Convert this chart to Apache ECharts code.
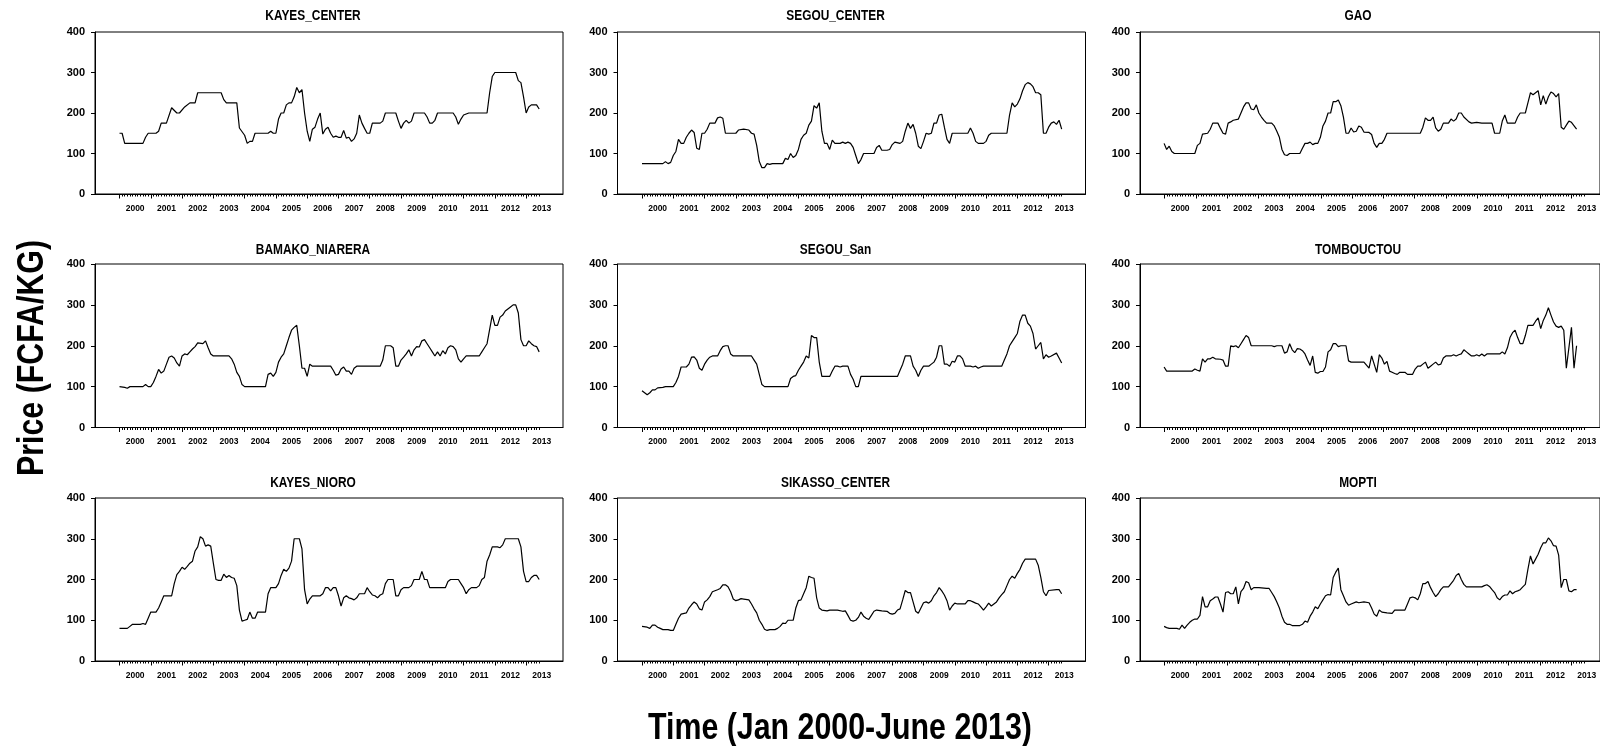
<!DOCTYPE html>
<html><head><meta charset="utf-8">
<script src="https://cdn.jsdelivr.net/npm/echarts@6/dist/echarts.min.js"></script>
<style>html,body{margin:0;padding:0;background:#fff}#c{width:1600px;height:746px}</style>
</head><body><div id="c"></div><script>
// Data: [month index (0 = Jan 2000), price FCFA/kg], vertices
const KAYES_CENTER = [[0,150],[1,150],[2,125],[9,125],[10,140],[11,150],[14,150],[15,155],[16,175],[18,175],[20,213],[22,200],[23,200],[25,215],[27,225],[29,225],[30,250],[39,250],[40,233],[41,225],[45,225],[46,163],[48,145],[49,125],[50,130],[51,130],[52,150],[57,150],[58,155],[59,150],[60,150],[61,185],[62,200],[63,200],[64,220],[65,225],[66,225],[67,240],[68,263],[69,250],[70,258],[71,200],[72,155],[73,130],[74,160],[75,165],[76,185],[77,200],[78,148],[79,160],[80,165],[81,150],[82,140],[83,143],[84,140],[85,140],[86,157],[87,138],[88,140],[89,130],[90,136],[91,150],[92,195],[93,175],[94,162],[95,150],[96,150],[97,175],[100,175],[101,180],[102,200],[106,200],[107,180],[108,162],[109,175],[110,182],[111,175],[112,180],[113,200],[117,200],[118,190],[119,175],[120,175],[121,182],[122,200],[128,200],[129,190],[130,172],[131,185],[132,195],[134,200],[141,200],[142,250],[143,290],[144,300],[152,300],[153,280],[154,275],[155,240],[156,200],[157,215],[158,220],[160,220],[161,210]];
const SEGOU_CENTER = [[0,75],[8,75],[9,80],[10,75],[11,78],[12,95],[13,105],[14,135],[15,125],[16,125],[17,140],[18,150],[19,158],[20,152],[21,113],[22,110],[23,150],[24,150],[25,160],[26,175],[28,175],[29,188],[30,190],[31,187],[32,150],[36,150],[37,158],[39,160],[41,158],[42,150],[43,148],[44,120],[45,80],[46,65],[47,65],[48,75],[49,73],[50,75],[54,75],[55,88],[56,85],[57,100],[58,90],[59,95],[60,110],[61,135],[62,145],[63,150],[64,170],[65,180],[66,218],[67,212],[68,225],[69,155],[70,125],[71,125],[72,110],[73,133],[74,125],[76,125],[77,128],[78,125],[79,128],[80,125],[81,115],[82,95],[83,75],[84,85],[85,100],[89,100],[90,115],[91,120],[92,108],[94,108],[95,110],[96,122],[97,128],[99,125],[100,130],[101,155],[102,175],[103,162],[104,172],[105,150],[106,118],[107,112],[108,130],[109,150],[110,148],[111,150],[112,175],[113,175],[114,195],[115,197],[116,165],[117,135],[118,125],[119,150],[125,150],[126,163],[127,150],[128,130],[129,125],[131,125],[132,130],[133,145],[134,150],[140,150],[141,195],[142,225],[143,215],[144,222],[145,235],[146,255],[147,270],[148,275],[149,272],[150,265],[151,250],[152,250],[153,245],[154,150],[155,150],[156,165],[157,175],[158,178],[159,172],[160,182],[161,160]];
const GAO = [[0,125],[1,110],[2,118],[3,105],[4,100],[12,100],[13,120],[14,125],[15,148],[17,150],[18,160],[19,175],[21,175],[22,162],[23,150],[24,148],[25,175],[26,178],[27,182],[29,185],[30,200],[31,215],[32,225],[33,225],[34,210],[35,208],[36,220],[37,200],[38,190],[39,182],[40,175],[42,175],[43,168],[44,155],[45,140],[46,110],[47,97],[48,95],[49,100],[53,100],[54,113],[55,125],[56,125],[57,128],[58,122],[59,125],[60,125],[61,140],[62,168],[63,180],[64,200],[65,200],[66,228],[67,228],[68,232],[69,218],[70,190],[71,150],[72,150],[73,163],[74,153],[75,155],[76,168],[77,165],[78,153],[80,152],[81,147],[82,125],[83,115],[84,125],[85,125],[86,135],[87,150],[100,150],[101,165],[102,188],[103,182],[104,182],[105,190],[106,163],[107,155],[108,160],[109,175],[111,175],[112,185],[113,180],[114,185],[115,200],[116,200],[117,190],[119,178],[120,175],[122,177],[124,175],[128,175],[129,150],[131,150],[132,180],[133,195],[134,175],[137,175],[138,190],[139,200],[141,200],[142,225],[143,250],[144,245],[145,250],[146,255],[147,220],[148,243],[149,222],[150,240],[151,252],[152,248],[153,240],[154,248],[155,165],[156,160],[157,170],[158,180],[159,177],[161,160]];
const BAMAKO_NIARERA = [[0,100],[2,98],[3,96],[4,100],[9,100],[10,105],[11,100],[12,100],[13,110],[14,125],[15,142],[16,133],[17,138],[18,155],[19,172],[20,175],[21,170],[22,158],[23,150],[24,175],[25,180],[26,178],[27,185],[28,192],[29,198],[30,207],[32,205],[33,212],[34,195],[35,180],[36,175],[42,175],[43,168],[44,155],[45,135],[46,125],[47,105],[48,100],[56,100],[57,130],[58,133],[59,125],[60,135],[61,160],[62,172],[63,180],[64,200],[65,220],[66,238],[67,245],[68,250],[69,200],[70,145],[71,145],[72,125],[73,155],[74,150],[81,150],[82,140],[83,128],[84,130],[85,143],[86,148],[87,138],[88,138],[89,130],[90,145],[91,150],[100,150],[101,165],[102,200],[104,200],[105,195],[106,150],[107,150],[108,165],[109,172],[110,180],[111,190],[112,175],[113,190],[114,198],[115,197],[116,212],[117,215],[118,205],[119,195],[120,185],[121,175],[122,185],[123,175],[124,188],[125,180],[126,195],[127,200],[128,198],[129,190],[130,168],[131,160],[132,168],[133,175],[138,175],[139,185],[140,195],[141,205],[142,240],[143,275],[144,250],[145,250],[146,270],[147,275],[148,285],[150,295],[151,300],[152,300],[153,280],[154,215],[155,200],[156,200],[157,212],[158,205],[159,200],[160,198],[161,185]];
const SEGOU_SAN = [[0,90],[1,85],[2,80],[3,85],[4,92],[5,92],[6,97],[8,98],[9,100],[12,100],[13,110],[14,125],[15,148],[17,148],[18,155],[19,172],[20,173],[21,165],[22,145],[23,140],[24,155],[25,165],[26,172],[27,175],[29,175],[30,188],[31,198],[32,200],[33,200],[34,180],[35,175],[42,175],[43,165],[44,155],[45,130],[46,105],[47,100],[56,100],[57,120],[58,125],[59,127],[60,140],[61,150],[62,160],[63,175],[64,170],[65,225],[66,220],[67,220],[68,160],[69,125],[72,125],[73,138],[74,150],[75,150],[76,148],[77,150],[79,150],[80,130],[81,118],[82,100],[83,100],[84,125],[98,125],[99,140],[100,155],[101,175],[103,175],[104,150],[105,140],[106,125],[107,140],[108,150],[110,150],[111,155],[112,160],[113,172],[114,200],[115,200],[116,155],[117,155],[118,150],[119,162],[120,160],[121,175],[122,175],[123,168],[124,150],[126,150],[127,148],[128,150],[129,145],[130,148],[131,150],[138,150],[139,165],[140,180],[141,200],[142,210],[143,220],[144,230],[145,260],[146,275],[147,275],[148,255],[149,248],[150,230],[151,192],[152,200],[153,208],[154,168],[155,178],[156,172],[157,175],[159,182],[160,170],[161,158]];
const TOMBOUCTOU = [[0,148],[1,138],[11,138],[12,143],[13,140],[14,138],[15,168],[16,160],[17,168],[18,168],[19,172],[20,168],[22,167],[23,165],[24,150],[25,150],[26,200],[27,198],[28,200],[29,195],[30,205],[31,215],[32,225],[33,220],[34,200],[42,200],[43,198],[44,200],[46,200],[47,182],[48,185],[49,205],[50,190],[51,183],[52,193],[53,192],[54,188],[55,180],[56,165],[57,152],[58,175],[59,135],[60,133],[61,137],[62,137],[63,148],[64,185],[65,190],[66,205],[67,205],[68,198],[69,200],[71,200],[72,163],[73,160],[78,160],[80,145],[81,175],[82,155],[83,135],[84,178],[85,170],[86,155],[87,162],[88,138],[89,135],[90,132],[91,130],[92,135],[94,135],[95,130],[97,130],[98,143],[99,150],[100,150],[101,155],[102,160],[103,145],[104,150],[105,155],[106,160],[107,153],[108,155],[109,170],[110,175],[112,175],[113,178],[114,175],[115,178],[116,180],[117,190],[118,185],[119,180],[120,175],[121,175],[122,178],[123,175],[124,180],[125,175],[126,180],[131,180],[132,185],[133,180],[134,195],[135,220],[136,232],[137,238],[138,220],[139,205],[140,205],[141,225],[142,250],[144,250],[145,260],[146,268],[147,242],[148,262],[149,275],[150,293],[151,275],[152,258],[153,248],[154,245],[155,248],[156,238],[157,145],[158,195],[159,245],[160,145],[161,200]];
const KAYES_NIORO = [[0,80],[3,80],[4,85],[5,90],[8,90],[9,92],[10,90],[11,105],[12,120],[14,120],[15,130],[16,145],[17,160],[20,160],[21,190],[22,212],[23,220],[24,230],[25,225],[26,232],[27,240],[28,245],[29,270],[30,280],[31,305],[32,300],[33,282],[34,285],[35,282],[36,240],[37,200],[38,198],[39,198],[40,213],[41,205],[42,210],[43,205],[44,203],[45,185],[46,125],[47,98],[48,100],[49,102],[50,120],[51,105],[52,105],[53,120],[56,120],[57,165],[58,180],[60,180],[61,190],[62,210],[63,225],[64,220],[65,228],[66,245],[67,300],[69,300],[70,275],[71,175],[72,140],[73,152],[74,160],[77,160],[78,165],[79,180],[80,180],[81,172],[82,180],[83,180],[84,160],[85,135],[86,155],[87,160],[88,155],[89,153],[90,150],[91,155],[92,165],[94,165],[95,180],[96,170],[97,162],[98,160],[99,155],[100,162],[101,165],[102,190],[103,200],[105,200],[106,160],[107,160],[108,175],[109,180],[111,180],[112,185],[113,200],[115,200],[116,220],[117,200],[118,200],[119,180],[125,180],[126,195],[127,200],[130,200],[131,190],[132,180],[133,165],[134,175],[135,180],[137,180],[138,185],[139,200],[140,205],[141,245],[142,260],[143,280],[145,280],[146,278],[147,285],[148,300],[153,300],[154,280],[155,220],[156,195],[157,195],[158,205],[159,210],[160,210],[161,200]];
const SIKASSO_CENTER = [[0,85],[2,83],[3,80],[4,88],[5,88],[6,83],[7,80],[8,77],[10,77],[11,75],[12,75],[13,90],[14,105],[15,115],[17,118],[18,130],[19,138],[20,145],[21,140],[22,128],[23,125],[24,145],[25,150],[26,158],[27,170],[29,175],[30,178],[31,187],[32,187],[33,182],[34,170],[35,152],[36,148],[37,150],[38,153],[39,152],[41,150],[42,140],[43,128],[44,118],[45,100],[46,90],[47,78],[48,75],[49,77],[51,77],[52,80],[53,85],[54,93],[55,92],[56,100],[58,100],[59,130],[60,148],[61,150],[62,165],[63,180],[64,208],[65,205],[66,203],[67,155],[68,130],[69,125],[71,123],[72,125],[75,125],[77,122],[78,123],[79,112],[80,100],[81,98],[82,100],[83,107],[84,120],[85,110],[86,105],[87,102],[88,112],[89,122],[90,125],[92,123],[94,122],[95,117],[96,115],[97,117],[98,125],[99,128],[100,150],[101,173],[102,168],[103,168],[104,145],[105,122],[106,117],[107,130],[108,143],[109,145],[110,142],[111,148],[112,160],[113,168],[114,180],[115,172],[116,162],[117,148],[118,125],[119,135],[120,142],[121,140],[124,140],[125,148],[126,148],[127,145],[128,142],[129,140],[130,133],[131,125],[132,133],[133,142],[134,135],[135,140],[136,145],[137,155],[138,163],[139,170],[140,185],[141,200],[142,208],[143,203],[144,215],[145,225],[146,240],[147,250],[151,250],[152,235],[153,205],[154,170],[155,160],[156,173],[159,175],[160,175],[161,165]];
const MOPTI = [[0,85],[1,82],[2,80],[5,80],[6,78],[7,88],[8,80],[9,88],[10,95],[11,100],[12,103],[13,103],[14,112],[15,158],[16,133],[17,133],[18,148],[19,152],[20,157],[21,157],[22,140],[23,120],[24,168],[25,170],[26,165],[27,165],[28,182],[29,140],[30,170],[31,178],[32,195],[33,192],[34,175],[35,180],[37,180],[40,178],[41,178],[42,168],[43,158],[44,145],[45,130],[46,110],[47,95],[48,90],[49,90],[50,87],[53,87],[54,90],[55,98],[56,95],[57,110],[58,120],[59,133],[60,128],[61,140],[62,150],[63,160],[64,163],[65,162],[66,205],[67,218],[68,228],[69,175],[70,160],[71,145],[72,137],[73,140],[75,145],[76,143],[78,145],[80,143],[81,130],[82,115],[83,110],[84,125],[85,120],[87,118],[89,117],[90,125],[94,125],[95,140],[96,155],[97,157],[98,155],[99,150],[100,165],[101,190],[102,190],[103,195],[104,180],[105,168],[106,158],[107,165],[108,175],[109,182],[111,182],[112,190],[113,198],[114,210],[115,215],[116,200],[117,188],[118,182],[124,182],[125,185],[126,187],[127,183],[128,175],[129,168],[130,155],[131,150],[132,158],[133,162],[134,162],[135,172],[136,165],[137,170],[138,172],[139,175],[140,182],[141,188],[142,225],[143,258],[144,238],[145,250],[146,262],[147,278],[148,290],[149,290],[150,302],[151,295],[152,283],[153,282],[154,260],[155,180],[156,200],[157,200],[158,172],[159,170],[160,175],[161,175]];

const PANEL_NAMES = ['KAYES_CENTER','SEGOU_CENTER','GAO','BAMAKO_NIARERA','SEGOU_San','TOMBOUCTOU','KAYES_NIORO','SIKASSO_CENTER','MOPTI'];
const PANEL_DATA = [KAYES_CENTER, SEGOU_CENTER, GAO, BAMAKO_NIARERA, SEGOU_SAN, TOMBOUCTOU, KAYES_NIORO, SIKASSO_CENTER, MOPTI];
const YEAR_LABELS = ['2000','2001','2002','2003','2004','2005','2006','2007','2008','2009','2010','2011','2012','2013'];
const Y_MIN = 0, Y_MAX = 400, Y_STEP = 100;
const N_MONTHS = 162; // Jan 2000 - Jun 2013
const X_TITLE = 'Time (Jan 2000-June 2013)';
const Y_TITLE = 'Price (FCFA/KG)';

// Layout (px)
const COL_LEFT = [95, 617.5, 1140];
const ROW_TOP = [32, 264, 498];
const ROW_BOTTOM = [194, 427.5, 661];
const TITLE_Y = [15.5, 250, 483];
const GRID_W = 468;
const MONTH_PX = 31.28 / 12;
const TICK_OFF = 24.5;
const X_MIN = -TICK_OFF / MONTH_PX;
const X_MAX = X_MIN + GRID_W / MONTH_PX;
const NARROW_X = 0.82;

const FONT = "'Liberation Sans',Arial,Helvetica,sans-serif";

const tickCats = [];
for (let i = 0; i <= N_MONTHS; i++) tickCats.push(YEAR_LABELS[Math.floor(i / 12)]);

const grid = [], xAxis = [], yAxis = [], series = [], graphic = [];
PANEL_NAMES.forEach((name, p) => {
  const r = Math.floor(p / 3), c = p % 3;
  const L = COL_LEFT[c], T = ROW_TOP[r], B = ROW_BOTTOM[r];
  const gMain = grid.length;
  grid.push({left: L, top: T, width: GRID_W, height: B - T, show: true, borderColor: '#000', borderWidth: 1, backgroundColor: 'transparent'});
  const gTick = grid.length;
  grid.push({left: L + TICK_OFF, top: B - 10, width: N_MONTHS * MONTH_PX, height: 10});

  const xMain = xAxis.length;
  xAxis.push({gridIndex: gMain, type: 'value', min: X_MIN, max: X_MAX,
    axisLine: {show: true, onZero: false, lineStyle: {color: '#000', width: 1}},
    axisTick: {show: false}, axisLabel: {show: false}, splitLine: {show: false}});
  xAxis.push({gridIndex: gTick, type: 'category', boundaryGap: false, data: tickCats, position: 'bottom',
    axisLine: {show: false, onZero: false},
    axisTick: {show: true, length: 2.5, interval: (i) => i < N_MONTHS, lineStyle: {color: '#000', width: 1}},
    axisLabel: {show: true, interval: (i) => i % 12 === 6, margin: 10, color: '#000', fontWeight: 'bold', fontSize: 8.5, fontFamily: FONT},
    splitLine: {show: false}});
  xAxis.push({gridIndex: gTick, type: 'category', boundaryGap: false, data: tickCats, position: 'bottom',
    axisLine: {show: false, onZero: false},
    axisTick: {show: true, length: 4.5, interval: (i) => i % 12 === 0 && i < N_MONTHS, lineStyle: {color: '#000', width: 1}},
    axisLabel: {show: false}, splitLine: {show: false}});

  const yMain = yAxis.length;
  yAxis.push({gridIndex: gMain, type: 'value', min: Y_MIN, max: Y_MAX, interval: Y_STEP, position: 'left',
    axisLine: {show: true, onZero: false, lineStyle: {color: '#000', width: 1}},
    axisTick: {show: true, length: 4, lineStyle: {color: '#000'}},
    axisLabel: {show: true, margin: 10, color: '#000', fontWeight: 'bold', fontSize: 11, fontFamily: FONT},
    splitLine: {show: false}});
  yAxis.push({gridIndex: gTick, type: 'value', show: false});

  series.push({type: 'line', name: name, xAxisIndex: xMain, yAxisIndex: yMain, data: PANEL_DATA[p], showSymbol: false, symbol: 'none',
    lineStyle: {color: '#000', width: 1.2}, animation: false, silent: true});

  graphic.push({type: 'text', x: L + 218, y: TITLE_Y[r], scaleX: NARROW_X,
    style: {text: name, font: 'bold 14.5px ' + FONT, fill: '#000', align: 'center', verticalAlign: 'middle', textAlign: 'center', textVerticalAlign: 'middle'}});
});

graphic.push({type: 'text', x: 840, y: 729, scaleX: NARROW_X,
  style: {text: X_TITLE, font: 'bold 37px ' + FONT, fill: '#000', align: 'center', verticalAlign: 'middle', textAlign: 'center', textVerticalAlign: 'middle'}});
graphic.push({type: 'text', x: 33, y: 358, rotation: Math.PI / 2, scaleX: NARROW_X,
  style: {text: Y_TITLE, font: 'bold 37px ' + FONT, fill: '#000', align: 'center', verticalAlign: 'middle', textAlign: 'center', textVerticalAlign: 'middle'}});

const chart = echarts.init(document.getElementById('c'), null, {renderer: 'canvas'});
chart.setOption({animation: false, backgroundColor: '#fff', grid, xAxis, yAxis, series, graphic});
</script></body></html>
